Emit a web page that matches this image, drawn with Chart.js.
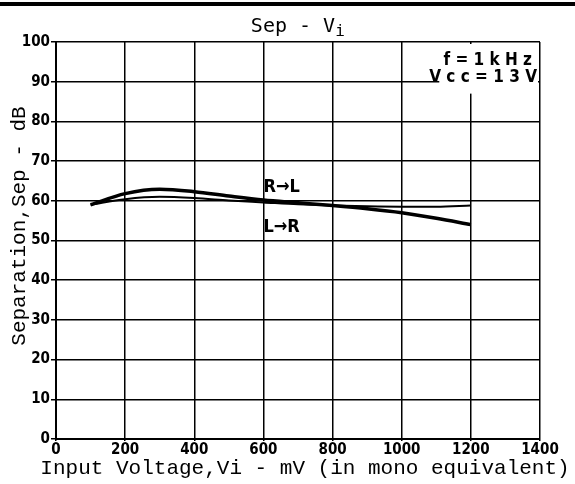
<!DOCTYPE html>
<html>
<head>
<meta charset="utf-8">
<script src="https://cdn.jsdelivr.net/npm/chart.js@4/dist/chart.umd.min.js"></script>
<style>
	html, body { margin: 0; padding: 0; background: #fff; }
	#topBar { position: absolute; left: 0; top: 2px; width: 575px; height: 4px; background: #000; }
	#wrap { position: absolute; left: 0; top: 0; width: 575px; height: 484px; }
</style>
</head>
<body>
<div id="wrap"><canvas id="sepChart" width="575" height="484"></canvas></div>
<div id="topBar"></div>
<script>
/* data */
const voltages = [100, 200, 300, 400, 500, 600, 700, 800, 900, 1000, 1100, 1200];
const sepLtoR = [59, 61.8, 62.9, 62.3, 61.2, 60.2, 59.5, 58.8, 58, 57, 55.6, 54];
const sepRtoL = [59, 60.4, 61, 60.7, 60.1, 59.6, 59.1, 58.8, 58.6, 58.5, 58.5, 58.8];
const xTicks = [0, 200, 400, 600, 800, 1000, 1200, 1400];
const yTicks = [0, 10, 20, 30, 40, 50, 60, 70, 80, 90, 100];

const monoFont = "'Liberation Mono', 'DejaVu Sans Mono', monospace";
const tickFont = { family: "'DejaVu Sans Condensed', 'Liberation Sans Narrow', 'Liberation Sans', sans-serif", size: 15, weight: 'bold' };
const noteFont = "bold 17px 'DejaVu Sans Condensed', 'Liberation Sans', sans-serif";

const toPoints = (ys) => voltages.map((x, i) => ({ x, y: ys[i] }));

/* texts on the chart */
const notesPlugin = {
	id: 'notes',
	afterDraw(chart) {
		const { ctx, scales: { x, y }, chartArea } = chart;
		ctx.save();
		ctx.fillStyle = '#000';

		// title: Sep - Vi
		ctx.font = "20px 'DejaVu Sans Mono', monospace";
		ctx.textBaseline = 'alphabetic';
		ctx.textAlign = 'left';
		const main = 'Sep - V';
		const w = ctx.measureText(main).width;
		const tx = 298 - (w + 10) / 2;
		ctx.fillText(main, tx, 32);
		ctx.font = "16px 'DejaVu Sans Mono', monospace";
		ctx.fillText('i', tx + w, 36);

		// axis titles
		ctx.font = `21px ${monoFont}`;
		ctx.textAlign = 'center';
		ctx.textBaseline = 'middle';
		ctx.fillText('Input Voltage,Vi - mV (in mono equivalent)', 305, 468);
		ctx.save();
		ctx.translate(19, 226);
		ctx.rotate(-Math.PI / 2);
		ctx.fillText('Separation,Sep - dB', 0, 0);
		ctx.restore();

		// conditions box
		const bx = x.getPixelForValue(1100);
		ctx.fillStyle = '#fff';
		ctx.fillRect(bx + 3, chartArea.top + 2, chartArea.right - bx - 5, y.getPixelForValue(87.5) - chartArea.top);
		ctx.fillStyle = '#000';
		ctx.font = noteFont;
		ctx.textAlign = 'right';
		ctx.textBaseline = 'alphabetic';
		ctx.fillText('f = 1 k H z', chartArea.right - 8, y.getPixelForValue(94.2));
		ctx.fillText('V c c = 1 3 V', chartArea.right - 3, y.getPixelForValue(89.8));

		// curve labels
		ctx.textAlign = 'left';
		ctx.font = "bold 18px 'DejaVu Sans Condensed', 'Liberation Sans', sans-serif";
		ctx.fillText('R\u2192L', x.getPixelForValue(600), y.getPixelForValue(62.3));
		ctx.fillText('L\u2192R', x.getPixelForValue(600), y.getPixelForValue(52.2));
		ctx.restore();
	}
};

const chart = new Chart(document.getElementById('sepChart'), {
	type: 'line',
	data: {
		datasets: [
			{
				label: 'L\u2192R',
				data: toPoints(sepLtoR),
				borderColor: '#000',
				borderWidth: 3.5,
				pointRadius: 0,
				tension: 0.4,
				cubicInterpolationMode: 'monotone',
			},
			{
				label: 'R\u2192L',
				data: toPoints(sepRtoL),
				borderColor: '#000',
				borderWidth: 2,
				pointRadius: 0,
				tension: 0.4,
				cubicInterpolationMode: 'monotone',
			}
		]
	},
	options: {
		responsive: false,
		animation: false,
		layout: {
			padding: { left: 0, right: 35, top: 42, bottom: 0 },
		},
		plugins: {
			legend: { display: false },
			tooltip: { enabled: false },
		},
		scales: {
			x: {
				type: 'linear',
				min: 0,
				max: 1400,
				afterBuildTicks: (axis) => { axis.ticks = xTicks.map(v => ({ value: v })); },
				afterFit: (axis) => { axis.height = 45; },
				ticks: { color: '#000', font: tickFont, padding: 0, maxRotation: 0, callback: (v) => String(v) },
				grid: { color: '#000', lineWidth: 1.5, tickLength: 2 },
				border: { color: '#000', width: 2 },
			},
			y: {
				type: 'linear',
				min: 0,
				max: 100,
				afterBuildTicks: (axis) => { axis.ticks = yTicks.map(v => ({ value: v })); },
				afterFit: (axis) => { axis.width = 56; },
				ticks: { color: '#000', font: tickFont, padding: 1, callback: (v) => String(v) },
				grid: { color: '#000', lineWidth: 1.5, tickLength: 5 },
				border: { color: '#000', width: 2 },
			},
		},
	},
	plugins: [notesPlugin],
});
</script>
</body>
</html>
